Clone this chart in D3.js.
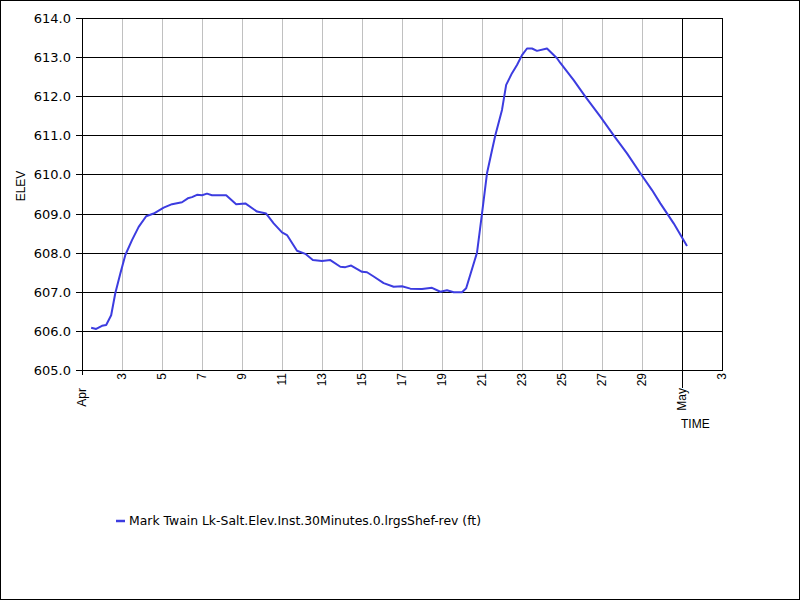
<!DOCTYPE html>
<html><head><meta charset="utf-8">
<script src="https://cdn.jsdelivr.net/npm/d3@7"></script>
<style>html,body{margin:0;padding:0;background:#fff;}svg{display:block;}</style>
</head><body>
<svg id="c" width="800" height="600"></svg>
<script>
// ---- data ----
const times = [
"2024-04-01T11:00","2024-04-01T17:00","2024-04-02T00:00","2024-04-02T05:00","2024-04-02T11:00",
"2024-04-02T16:00","2024-04-02T22:00","2024-04-03T04:00","2024-04-03T12:00","2024-04-03T20:00",
"2024-04-04T05:00","2024-04-04T14:00","2024-04-05T02:00","2024-04-05T12:00","2024-04-06T00:00",
"2024-04-06T07:00","2024-04-06T12:00","2024-04-06T18:00","2024-04-07T00:00","2024-04-07T06:00",
"2024-04-07T12:00","2024-04-08T05:00","2024-04-08T17:00","2024-04-09T04:00","2024-04-09T18:00",
"2024-04-10T05:00","2024-04-10T14:00","2024-04-11T00:00","2024-04-11T06:00","2024-04-11T18:00",
"2024-04-12T04:00","2024-04-12T13:00","2024-04-13T00:00","2024-04-13T10:00","2024-04-13T22:00",
"2024-04-14T04:00","2024-04-14T11:00","2024-04-15T00:00","2024-04-15T06:00","2024-04-15T14:00",
"2024-04-16T02:00","2024-04-16T14:00","2024-04-17T00:00","2024-04-17T10:00","2024-04-18T00:00",
"2024-04-18T12:00","2024-04-18T22:00","2024-04-19T06:00","2024-04-19T14:00","2024-04-20T00:00",
"2024-04-20T05:00","2024-04-20T18:00","2024-04-21T00:00","2024-04-21T06:00","2024-04-21T12:00",
"2024-04-21T16:00","2024-04-22T00:00","2024-04-22T05:00","2024-04-22T12:00","2024-04-22T18:00",
"2024-04-23T00:00","2024-04-23T06:00","2024-04-23T12:00","2024-04-23T18:00","2024-04-24T06:00",
"2024-04-24T18:00","2024-04-24T22:00","2024-04-25T14:00","2024-04-26T04:00","2024-04-26T22:00",
"2024-04-27T14:00","2024-04-28T06:00","2024-04-28T22:00","2024-04-29T12:00","2024-04-29T22:00",
"2024-04-30T14:00","2024-05-01T06:00"
];
const elev = [
606.08,606.05,606.13,606.15,606.40,
606.97,607.47,607.94,608.32,608.66,
608.93,609.00,609.15,609.24,609.29,
609.39,609.42,609.48,609.47,609.51,
609.47,609.47,609.24,609.26,609.05,
609.00,608.75,608.52,608.45,608.05,
607.97,607.81,607.79,607.81,607.64,
607.63,607.67,607.51,607.50,607.39,
607.22,607.13,607.14,607.08,607.07,
607.10,607.00,607.04,606.99,606.99,
607.09,608.00,609.00,610.03,610.62,
611.00,611.65,612.29,612.59,612.80,
613.05,613.22,613.22,613.16,613.22,
612.97,612.85,612.41,611.99,611.48,
611.00,610.54,610.03,609.60,609.26,
608.75,608.17
];
const seriesName = "Mark Twain Lk-Salt.Elev.Inst.30Minutes.0.lrgsShef-rev (ft)";
const yTicks = [605,606,607,608,609,610,611,612,613,614];
const dayTicks = ["2024-04-03","2024-04-05","2024-04-07","2024-04-09","2024-04-11","2024-04-13","2024-04-15",
  "2024-04-17","2024-04-19","2024-04-21","2024-04-23","2024-04-25","2024-04-27","2024-04-29","2024-05-03"];
const dayLabels = ["3","5","7","9","11","13","15","17","19","21","23","25","27","29","3"];
const monthTicks = ["2024-04-01","2024-05-01"];
const monthLabels = ["Apr","May"];
const xDomain = ["2024-04-01","2024-05-03"];
const yDomain = [605,614];
const xTitle = "TIME", yTitle = "ELEV";

// ---- chart ----
const parse = s => new Date(s.length > 10 ? s + ":00Z" : s + "T00:00:00Z");
const svg = d3.select("#c");
const L = 82, R = 722, T = 18, B = 370;
const x = d3.scaleUtc().domain(xDomain.map(parse)).range([L, R]);
const y = d3.scaleLinear().domain(yDomain).range([B, T]);
const px = v => Math.round(v) + 0.5;

svg.append("rect").attr("x",0.5).attr("y",0.5).attr("width",799).attr("height",599)
  .attr("fill","#fff").attr("stroke","#000");

// vertical grid (odd days) gray
svg.append("g").selectAll("line").data(dayTicks.slice(0,-1)).join("line")
  .attr("x1", d => px(x(parse(d)))).attr("x2", d => px(x(parse(d))))
  .attr("y1", T).attr("y2", B).attr("stroke","#c0c0c0").attr("stroke-width",1);

// horizontal grid black
svg.append("g").selectAll("line").data(yTicks).join("line")
  .attr("x1", L - 6).attr("x2", R + 0.5)
  .attr("y1", d => px(y(d))).attr("y2", d => px(y(d)))
  .attr("stroke","#000").attr("stroke-width",1);

// left axis line, right border, month lines
svg.append("line").attr("x1",px(L)).attr("x2",px(L)).attr("y1",T).attr("y2",B+5).attr("stroke","#000");
svg.append("line").attr("x1",px(R)).attr("x2",px(R)).attr("y1",T).attr("y2",B+1).attr("stroke","#000");
svg.append("line").attr("x1",px(x(parse(monthTicks[1])))).attr("x2",px(x(parse(monthTicks[1]))))
  .attr("y1",T).attr("y2",B+18).attr("stroke","#000");

// y labels
svg.append("g").selectAll("text").data(yTicks).join("text")
  .attr("x", 71).attr("y", d => y(d) + 5)
  .attr("text-anchor","end").attr("font-family","DejaVu Sans").attr("font-size",13)
  .attr("fill","#000").text(d => d.toFixed(1));

// x day labels (rotated)
svg.append("g").selectAll("text").data(dayTicks).join("text")
  .attr("transform", d => `translate(${x(parse(d)) + 4},373) rotate(-90)`)
  .attr("text-anchor","end").attr("font-family","Liberation Sans").attr("font-size",12)
  .attr("fill","#000").text((d,i) => dayLabels[i]);

// month labels
svg.append("g").selectAll("text").data(monthTicks).join("text")
  .attr("transform", d => `translate(${x(parse(d)) + 4},388) rotate(-90)`)
  .attr("text-anchor","end").attr("font-family","Liberation Sans").attr("font-size",12)
  .attr("fill","#000").text((d,i) => monthLabels[i]);

// axis titles
svg.append("text").attr("x",681).attr("y",428).attr("font-family","Liberation Sans").attr("font-size",12)
  .attr("fill","#000").text(xTitle);
svg.append("text").attr("transform","translate(25,186) rotate(-90)").attr("text-anchor","middle")
  .attr("font-family","Liberation Sans").attr("font-size",12).attr("fill","#000").text(yTitle);

// series line
const pts = times.map((t,i) => [parse(t), elev[i]]);
svg.append("path").datum(pts)
  .attr("d", d3.line().x(d => x(d[0])).y(d => y(d[1])))
  .attr("fill","none").attr("stroke","#3c3ce0").attr("stroke-width",2).attr("stroke-linejoin","round");

// legend
svg.append("line").attr("x1",116).attr("x2",125).attr("y1",521).attr("y2",521)
  .attr("stroke","#3c3ce0").attr("stroke-width",2.5);
svg.append("text").attr("x",129).attr("y",525).attr("font-family","DejaVu Sans").attr("font-size",12.4)
  .attr("fill","#000").text(seriesName);
</script>
</body></html>
